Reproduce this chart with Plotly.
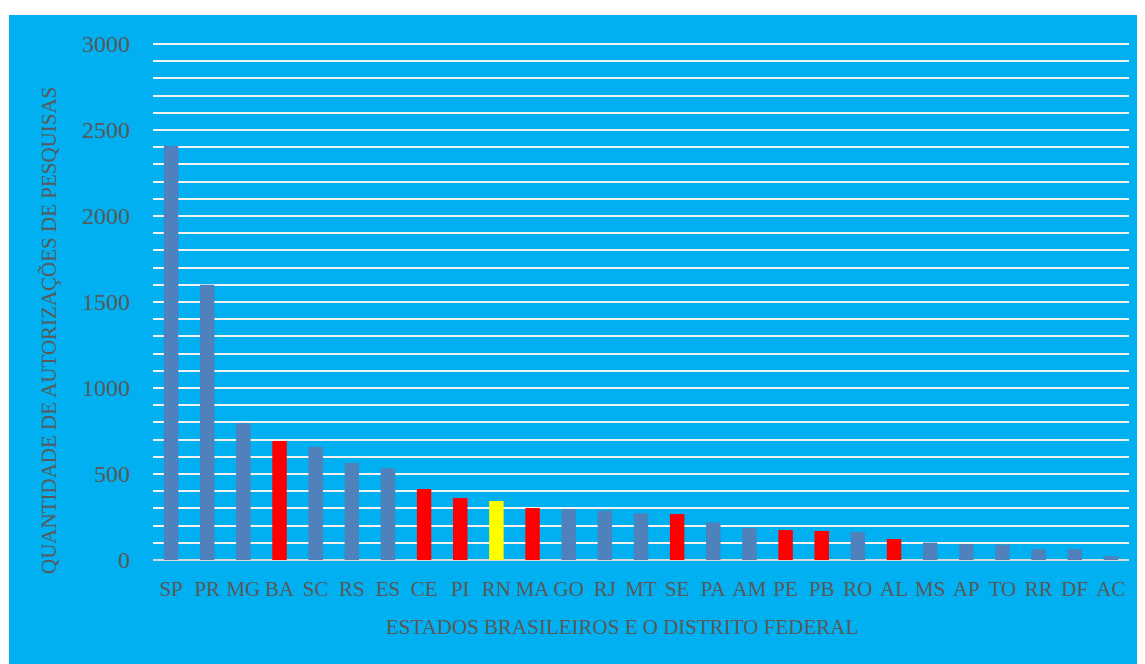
import plotly.graph_objects as go

states = ["SP", "PR", "MG", "BA", "SC", "RS", "ES", "CE", "PI", "RN", "MA", "GO", "RJ", "MT",
          "SE", "PA", "AM", "PE", "PB", "RO", "AL", "MS", "AP", "TO", "RR", "DF", "AC"]
values = [2408, 1600, 795, 692, 659, 564, 533, 413, 360, 343, 302, 295, 287, 271,
          267, 219, 186, 174, 169, 163, 122, 101, 93, 89, 64, 64, 23]
highlight = {"BA": "red", "CE": "red", "PI": "red", "MA": "red", "SE": "red",
             "PE": "red", "PB": "red", "AL": "red", "RN": "yellow"}

y_ticks = [0, 500, 1000, 1500, 2000, 2500, 3000]

color_map = {"red": "#FF0000", "yellow": "#FFFF00", "default": "#4F81BD"}
colors = [color_map[highlight.get(s, "default")] for s in states]

BG = "#00B0F0"
TXT = "#595959"
FONT = "Liberation Serif"

fig = go.Figure()
fig.add_trace(go.Bar(x=states, y=values, marker=dict(color=colors, line=dict(width=0))))

# page body has an 8px margin, so the figure is sized to the remaining window
W, H = 1137, 656
ml, mr, mt, mb = 145, 16, 33, 104
pw = W - ml - mr
ph = H - mt - mb

fig.update_layout(
    width=W, height=H,
    margin=dict(l=ml, r=mr, t=mt, b=mb, pad=0),
    paper_bgcolor="white",
    plot_bgcolor=BG,
    bargap=0.6,
    showlegend=False,
    font=dict(family=FONT, color=TXT, size=21),
    shapes=[dict(type="rect", xref="paper", yref="paper", layer="below",
                 x0=(1 - ml) / pw, x1=(W - ml) / pw + 0.01,
                 y0=-mb / ph - 0.01, y1=1 + (mt - 7) / ph,
                 fillcolor=BG, line=dict(width=0))],
    xaxis=dict(showgrid=False, zeroline=False, showline=False, ticks="",
               tickfont=dict(family=FONT, size=21, color=TXT),
               ticklabelstandoff=14, automargin=False),
    yaxis=dict(range=[0, 3017], tickvals=y_ticks, showgrid=True,
               gridcolor="#F2F2F2", gridwidth=2,
               minor=dict(dtick=100, showgrid=True, gridcolor="#F2F2F2", gridwidth=2),
               zeroline=True, zerolinecolor="#D9D9D9", zerolinewidth=2,
               showline=False, ticks="",
               tickfont=dict(family=FONT, size=24, color=TXT),
               ticklabelstandoff=22, automargin=False),
    annotations=[
        dict(text="ESTADOS BRASILEIROS E O DISTRITO FEDERAL", xref="paper", yref="paper",
             x=(613.5 - ml) / pw, y=-(619 - 552) / ph, xanchor="center", yanchor="middle",
             showarrow=False, font=dict(family=FONT, size=21, color=TXT)),
        dict(text="QUANTIDADE DE AUTORIZAÇÕES DE PESQUISAS", xref="paper", yref="paper",
             x=(41 - ml) / pw, y=(552 - 323) / ph, xanchor="center", yanchor="middle",
             textangle=-90, showarrow=False, font=dict(family=FONT, size=21, color=TXT)),
    ],
)

fig.write_html("out.html")
